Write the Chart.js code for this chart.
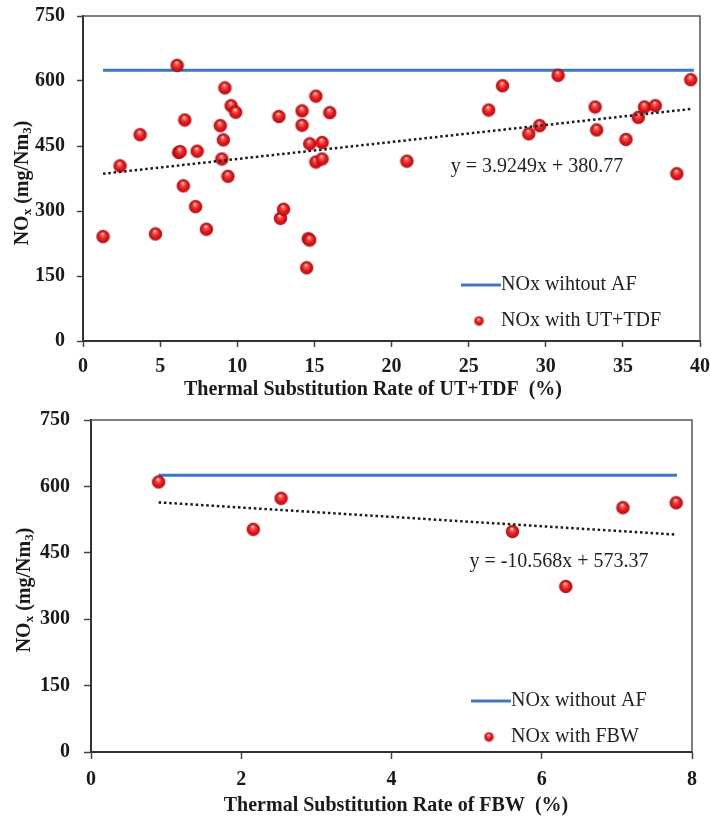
<!DOCTYPE html>
<html>
<head>
<meta charset="utf-8">
<script src="https://cdn.jsdelivr.net/npm/chart.js@4.4.1/dist/chart.umd.min.js"></script>
<style>
    body { margin: 0; background: #fff; }
    canvas { display: block; }
</style>
</head>
<body>
<canvas id="chart1" width="710" height="410"></canvas>
<canvas id="chart2" width="710" height="409"></canvas>
<script>
// --- data ---
var yTicks = [0, 150, 300, 450, 600, 750];

// top panel: UT+TDF
var xTicksUt = [0, 5, 10, 15, 20, 25, 30, 35, 40];
var utX = [1.3, 2.4, 3.7, 4.7, 6.1, 6.2, 6.3, 6.6, 6.5, 7.4, 7.3, 8.0, 8.9, 9.1, 9.0, 9.2, 9.6, 9.9, 9.4, 12.7,
           12.8, 13.0, 14.2, 14.2, 14.6, 14.7, 14.5, 14.7, 15.1, 15.5, 15.1, 15.5, 16.0, 21.0, 26.3, 27.2, 28.9, 29.6, 30.8, 33.2,
           33.3, 35.2, 36.0, 36.4, 37.1, 38.5, 39.4];
var utY = [241, 404, 476, 247, 636, 435, 437, 510, 358, 438, 310, 258, 497, 464, 420, 584, 543, 528, 380, 518,
           283, 304, 531, 498, 236, 233, 169, 455, 565, 458, 413, 420, 527, 415, 533, 589, 478, 497, 613, 540,
           487, 465, 516, 540, 543, 386, 603];
var noAfUtX = [1.3, 39.6];
var noAfUtY = [625, 625];
var trendUtX = [1.3, 39.5];
var trendUtY = [385.9, 535.8];

// bottom panel: FBW
var xTicksFbw = [0, 2, 4, 6, 8];
var fbwX = [0.9, 2.16, 2.53, 5.61, 6.32, 7.08, 7.79];
var fbwY = [610, 503, 573, 498, 374, 552, 563];
var noAfFbwX = [0.9, 7.8];
var noAfFbwY = [625, 625];
var trendFbwX = [0.9, 7.78];
var trendFbwY = [563.9, 491.2];

var SERIF = '"Liberation Serif", "Times New Roman", serif';

function toXY(xs, ys) {
    return xs.map(function (x, i) { return {x: x, y: ys[i]}; });
}

// red glossy ball used as point marker
function ball(r) {
    var c = document.createElement('canvas');
    var s = Math.ceil(r * 2 + 2);
    c.width = s; c.height = s;
    var g = c.getContext('2d');
    var cx = s / 2, cy = s / 2;
    var grad = g.createRadialGradient(cx - r * 0.1, cy - r * 0.45, r * 0.05, cx, cy + r * 0.1, r * 1.05);
    grad.addColorStop(0, '#fff2f0');
    grad.addColorStop(0.2, '#ff6258');
    grad.addColorStop(0.55, '#e8181c');
    grad.addColorStop(0.85, '#c40e12');
    grad.addColorStop(1, '#9a0a0c');
    g.fillStyle = grad;
    g.beginPath();
    g.arc(cx, cy, r, 0, Math.PI * 2);
    g.fill();
    g.strokeStyle = 'rgba(120,0,0,0.55)';
    g.lineWidth = 0.7;
    g.stroke();
    return c;
}
var bigBall = ball(6.5);
var smallBall = ball(4.5);

function drawParts(ctx, parts, bold) {
    var main = (bold ? 'bold ' : '') + '20px ' + SERIF;
    var sub = (bold ? 'bold ' : '') + '13px ' + SERIF;
    var total = 0;
    parts.forEach(function (p) {
        ctx.font = p[1] ? sub : main;
        total += ctx.measureText(p[0]).width;
    });
    var x = -total / 2;
    parts.forEach(function (p) {
        ctx.font = p[1] ? sub : main;
        ctx.fillText(p[0], x, p[1] ? 5 : 0);
        x += ctx.measureText(p[0]).width;
    });
}

var decor = {
    id: 'decor',
    beforeDatasetsDraw: function (chart) {
        var ctx = chart.ctx, a = chart.chartArea;
        ctx.save();
        ctx.strokeStyle = '#555';
        ctx.lineWidth = 1.5;
        ctx.beginPath();
        ctx.moveTo(a.left, a.top);
        ctx.lineTo(a.right, a.top);
        ctx.lineTo(a.right, a.bottom);
        ctx.stroke();
        ctx.restore();
    },
    afterDraw: function (chart, args, o) {
        var ctx = chart.ctx;
        var ds = chart.data.datasets;
        ctx.save();
        ctx.fillStyle = '#1a1a1a';
        ctx.textBaseline = 'middle';
        ctx.textAlign = 'left';

        // y title, rotated, with subscripts
        ctx.save();
        ctx.translate(o.yTitle[0], o.yTitle[1]);
        ctx.rotate(-Math.PI / 2);
        drawParts(ctx, [['NO', false], ['x', true], [' (mg/Nm', false], ['3', true], [')', false]], true);
        ctx.restore();

        // x title
        ctx.save();
        ctx.translate(o.xTitle[0], o.xTitle[1]);
        drawParts(ctx, [[o.xText, false]], true);
        ctx.restore();

        // trendline equation
        ctx.font = '20px ' + SERIF;
        ctx.fillStyle = '#222';
        ctx.textAlign = 'center';
        ctx.fillText(o.eq, o.eqPos[0], o.eqPos[1]);

        // legend
        var lx = o.legend[0], ly = o.legend[1];
        ctx.strokeStyle = ds[0].borderColor;
        ctx.lineWidth = 3;
        ctx.beginPath();
        ctx.moveTo(lx, ly);
        ctx.lineTo(lx + 40, ly);
        ctx.stroke();
        ctx.drawImage(smallBall, lx + 18 - smallBall.width / 2, ly + 36 - smallBall.height / 2);
        ctx.textAlign = 'left';
        ctx.fillStyle = '#222';
        ctx.fillText(ds[0].label, lx + 40, ly);
        ctx.fillText(ds[1].label, lx + 40, ly + 36);
        ctx.restore();
    }
};

function buildChart(id, d) {
    var tickFont = {family: SERIF, size: 20, weight: 'bold', lineHeight: 1};
    return new Chart(document.getElementById(id), {
        type: 'scatter',
        data: {
            datasets: [{
                label: d.baseLabel,
                data: toXY(d.baseX, d.baseY),
                showLine: true,
                borderColor: '#3b78bf',
                borderWidth: 3,
                pointRadius: 0,
                order: 3
            }, {
                label: d.dotLabel,
                data: toXY(d.dotX, d.dotY),
                pointStyle: bigBall,
                pointRadius: 6.5,
                order: 2
            }, {
                label: 'Linear',
                data: toXY(d.trendX, d.trendY),
                showLine: true,
                borderColor: '#1a1a1a',
                borderWidth: 2.5,
                borderDash: [2.5, 2.8],
                pointRadius: 0,
                order: 1
            }]
        },
        options: {
            responsive: false,
            animation: false,
            events: [],
            layout: {padding: {top: d.pad[0], right: d.pad[1], bottom: 0, left: 0}},
            scales: {
                x: {
                    type: 'linear',
                    min: d.xTicks[0],
                    max: d.xTicks[d.xTicks.length - 1],
                    afterBuildTicks: function (s) {
                        s.ticks = d.xTicks.map(function (v) { return {value: v}; });
                    },
                    afterFit: function (s) {
                        s.height = d.xH;
                        s.paddingLeft = 0;
                        s.paddingRight = 0;
                    },
                    ticks: {color: '#1a1a1a', font: tickFont, padding: d.xPad, autoSkip: false, maxRotation: 0},
                    grid: {drawOnChartArea: false, tickLength: d.tl, tickColor: '#444', tickWidth: 1.5},
                    border: {color: '#333', width: 2}
                },
                y: {
                    type: 'linear',
                    min: 0,
                    max: 750,
                    afterBuildTicks: function (s) {
                        s.ticks = yTicks.map(function (v) { return {value: v}; });
                    },
                    afterFit: function (s) {
                        s.width = d.yW;
                        s.paddingTop = 0;
                        s.paddingBottom = 0;
                    },
                    ticks: {color: '#1a1a1a', font: tickFont, padding: d.yPad},
                    grid: {drawOnChartArea: false, tickLength: d.tl, tickColor: '#444', tickWidth: 1.5},
                    border: {color: '#333', width: 2}
                }
            },
            plugins: {
                legend: {display: false},
                tooltip: {enabled: false},
                decor: {
                    yTitle: d.yTitle,
                    xTitle: d.xTitle,
                    xText: d.xText,
                    eq: d.eq,
                    eqPos: d.eqPos,
                    legend: d.legend
                }
            }
        },
        plugins: [decor]
    });
}

buildChart('chart1', {
    baseLabel: 'NOx wihtout AF',
    dotLabel: 'NOx with UT+TDF',
    baseX: noAfUtX, baseY: noAfUtY,
    dotX: utX, dotY: utY,
    trendX: trendUtX, trendY: trendUtY,
    xTicks: xTicksUt,
    pad: [16, 10], xH: 69, yW: 83, tl: 6, xPad: 10, yPad: 12,
    yTitle: [23, 183],
    xTitle: [373, 390],
    xText: 'Thermal Substitution Rate of UT+TDF  (%)',
    eq: 'y = 3.9249x + 380.77',
    eqPos: [537, 167],
    legend: [461, 285]
});

buildChart('chart2', {
    baseLabel: 'NOx without AF',
    dotLabel: 'NOx with FBW',
    baseX: noAfFbwX, baseY: noAfFbwY,
    dotX: fbwX, dotY: fbwY,
    trendX: trendFbwX, trendY: trendFbwY,
    xTicks: xTicksFbw,
    pad: [10, 18], xH: 67, yW: 91, tl: 7, xPad: 11, yPad: 14,
    yTitle: [25, 180],
    xTitle: [396, 396],
    xText: 'Thermal Substitution Rate of FBW  (%)',
    eq: 'y = -10.568x + 573.37',
    eqPos: [559, 152],
    legend: [471, 291]
});
</script>
</body>
</html>
